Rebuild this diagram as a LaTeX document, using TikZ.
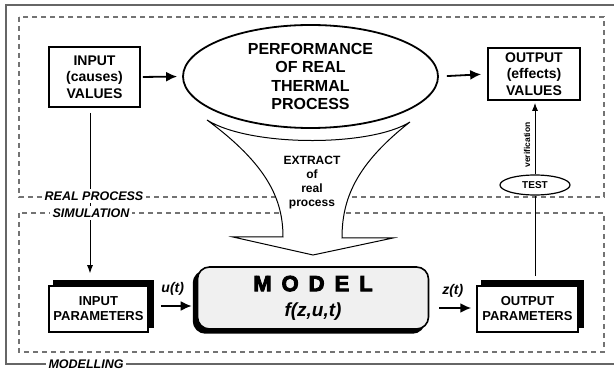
\documentclass[tikz,border=0pt]{standalone}
\usepackage{fontspec}
\setmainfont{Liberation Sans}
\newfontfamily\heavyfont[BoldFeatures={FakeBold=4}]{Liberation Sans}
\usetikzlibrary{arrows.meta,shapes.geometric}

\tikzset{
  valbox/.style={draw, line width=1.7pt, align=center, inner sep=0pt,
    font=\fontsize{14}{16.5}\selectfont\bfseries},
  parbox/.style={draw, fill=white, line width=1.5pt, align=center, inner sep=0pt,
    minimum height=46pt, font=\fontsize{13}{15}\selectfont\bfseries},
  shadowbox/.style={draw, fill=black, line width=1.5pt, inner sep=0pt, minimum height=46pt},
  zone/.style={black!55, dash pattern=on 5pt off 4pt, line width=1.1pt},
  zonelabel/.style={fill=white, inner sep=3pt,
    font=\fontsize{12.5}{14}\selectfont\bfseries\itshape},
  bigarrow/.style={-{Latex[length=11pt,width=10pt]}, line width=1.8pt},
  thinarrow/.style={-{Latex[length=8pt,width=6pt]}, line width=0.9pt},
}

\begin{document}
\begin{tikzpicture}[x=1pt, y=-1pt]
  \useasboundingbox (0,0) rectangle (614,374);

  % outer frame and the two zones
  \draw[black!60, line width=1.6pt] (614,5) -- (6,5) -- (6,364) -- (614,364);
  \draw[zone] (19,17) rectangle (604,197);
  \draw[zone] (19,213) rectangle (604,352);

  % real process
  \node[valbox, minimum width=91pt, minimum height=60pt] (inval) at (94.5,77)
    {INPUT\\(causes)\\VALUES};
  \node[draw, ellipse, line width=1.8pt, minimum width=255pt, minimum height=103pt,
    inner sep=0pt, align=center, font=\fontsize{16}{18.3}\selectfont\bfseries]
    (proc) at (310.5,76.5) {PERFORMANCE\\OF REAL\\THERMAL\\PROCESS};
  \node[valbox, minimum width=92pt, minimum height=52pt] (outval) at (534,74)
    {OUTPUT\\(effects)\\VALUES};
  \node[draw, ellipse, line width=1.2pt, minimum width=70pt, minimum height=20pt,
    inner sep=0pt, font=\fontsize{10}{12}\selectfont\bfseries] (test) at (535,185) {TEST};

  % simulation, the boxes sit on black shadows
  \node[shadowbox, minimum width=99pt] (inparsh) at (103.5,304) {};
  \node[parbox, minimum width=99pt] (inpar) at (98.5,309) {INPUT\\PARAMETERS};
  \node[shadowbox, minimum width=101pt] (outparsh) at (532.5,304) {};
  \node[parbox, minimum width=101pt] (outpar) at (527.5,309) {OUTPUT\\PARAMETERS};
  \node[shadowbox, rounded corners=12pt, minimum width=231pt, minimum height=62pt]
    (modelsh) at (309,302) {};
  \node[draw, fill=gray!12, rounded corners=12pt, line width=1.6pt,
    minimum width=231pt, minimum height=62pt, align=center,
    font=\fontsize{19}{25}\selectfont\bfseries\itshape] (model) at (313,298)
    {{\heavyfont\bfseries\upshape\fontsize{22}{25}\selectfont
      M\hspace{10pt}O\hspace{10pt}D\hspace{10pt}E\hspace{10pt}L}\\f(z,u,t)};

  \draw[thinarrow, shorten <=5pt, shorten >=12pt]
    ([xshift=-4.5pt]inval.south) -- ([xshift=-4.5pt]inval.south |- inpar.north);

  \node[zonelabel] (lblreal) at (94,196) {REAL PROCESS};
  \node[zonelabel] (lblsim) at (91,213) {SIMULATION};
  \node[zonelabel] (lblmod) at (86,364) {MODELLING};

  % extraction funnel
  \draw[fill=white, line width=1pt]
    (207,120) .. controls (250,147) and (370,147) .. (410,122)
    .. controls (355,165) and (342,200) .. (342,238)
    -- (393,238) -- (313,255) -- (233,237) -- (283,237)
    .. controls (283,200) and (268,165) .. (207,120) -- cycle;
  \node[align=center, font=\fontsize{12}{14}\selectfont\bfseries] (extr) at (312,183)
    {EXTRACT\\of\\real\\process};

  % connectors
  \draw[bigarrow, shorten <=2pt, shorten >=5pt] (inval.east) -- (proc.west);
  \draw[bigarrow, shorten <=8pt, shorten >=6pt] (proc.east) -- (outval.west);
  \draw[bigarrow, shorten <=12pt, shorten >=5pt]
    ([yshift=3pt]inpar.east) -- ([yshift=3pt]inpar.east -| model.west)
    node[midway, above=6pt, font=\fontsize{14}{16}\selectfont\bfseries\itshape] {u(t)};
  \draw[bigarrow, shorten <=10pt, shorten >=5pt]
    ([yshift=1pt]outpar.west -| model.east) -- ([yshift=1pt]outpar.west)
    node[midway, above=6pt, font=\fontsize{14}{16}\selectfont\bfseries\itshape] {z(t)};
  \draw[line width=0.9pt, shorten <=9pt] (test.south |- outpar.north) -- (test.south);
  \draw[thinarrow, shorten >=2pt] (test.north) -- (test.north |- outval.south)
    node[pos=0.4, sloped, above=1pt, font=\fontsize{8.5}{10}\selectfont\bfseries] {verification};
\end{tikzpicture}
\end{document}
